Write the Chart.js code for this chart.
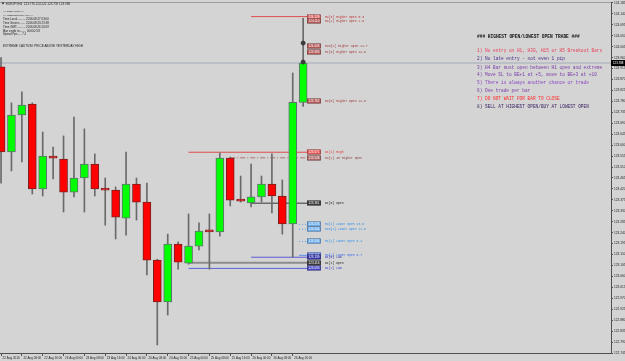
<!DOCTYPE html>
<html><head><meta charset="utf-8">
<script src="https://cdn.jsdelivr.net/npm/chart.js@4.4.0/dist/chart.umd.min.js"></script>
<style>html,body{margin:0;padding:0;background:#d4d4d4;overflow:hidden}#wrap{width:625px;height:361px;position:relative}canvas{display:block}</style>
</head><body><div id="wrap"><canvas id="c" width="625" height="361"></canvas></div>
<script>
// ---------- DATA ----------
const xTickLabels = ['22 Aug 2016','22 Aug 08:00','22 Aug 16:00','23 Aug 00:00','23 Aug 08:00','23 Aug 16:00','24 Aug 00:00','24 Aug 08:00','24 Aug 16:00','25 Aug 00:00','25 Aug 08:00','25 Aug 16:00','26 Aug 00:00','26 Aug 08:00','26 Aug 16:00'];
const opens  = [123.922,123.572,123.724,123.769,123.420,123.555,123.543,123.407,123.465,123.522,123.420,123.415,123.300,123.440,123.366,123.127,122.955,123.193,123.115,123.185,123.247,123.243,123.547,123.374,123.362,123.387,123.440,123.391,123.276,123.776];
const highs  = [123.960,123.774,123.819,123.774,123.654,123.592,123.638,123.716,123.667,123.564,123.465,123.428,123.572,123.465,123.444,123.131,123.234,123.202,123.317,123.280,123.317,123.568,123.551,123.473,123.522,123.473,123.564,123.457,123.897,124.122];
const lows   = [123.444,123.494,123.531,123.399,123.391,123.461,123.325,123.387,123.325,123.391,123.271,123.214,123.230,123.292,123.066,122.778,122.901,123.090,123.110,123.169,123.090,123.226,123.350,123.366,123.346,123.366,123.321,123.234,123.140,123.759];
const closes = [123.572,123.724,123.765,123.420,123.555,123.547,123.407,123.465,123.522,123.420,123.415,123.304,123.440,123.366,123.127,122.955,123.193,123.119,123.185,123.247,123.243,123.547,123.374,123.370,123.387,123.440,123.391,123.276,123.776,123.938];
const yTickLabels = ['122.745','122.790','122.835','122.880','122.925','122.970','123.015','123.060','123.105','123.150','123.195','123.240','123.285','123.330','123.375','123.420','123.465','123.510','123.555','123.600','123.645','123.690','123.735','123.780','123.825','123.870','123.915','123.960','124.005','124.050','124.095','124.140','124.185'];
const levelNames  = ['H4[3] Higher Open 0.3','H4[2] Higher Open 2.6','H4D[1] Higher Open 11.7','H1[0] Higher Open 14.6','H4[0] Higher Open 24.6','D1[1] High','H4[1] 4H Higher Open','D1[0] Open','H4[1] Lower Open 13.5','H4D[1] Lower Open 11.6','H1[1] Lower Open 8.4','H4[2] Lower Open 0.7','D1[0] Low','D1[1] Open','D1[1] Low'];
const levelPrices = [124.129,124.110,124.008,123.983,123.782,123.571,123.548,123.361,123.274,123.254,123.204,123.147,123.139,123.116,123.093];
const levelStart  = [24,null,null,null,null,18,22,24,28.6,28.6,28.6,28.6,24,18,18];
const markerPrices = [124.020,123.942];
const infoLines = ['### TestBox Version ###','### smithsOpenLines_v1.2 ###','Time Local.......... 2016.08.27 03:00','Time Server........ 2016.08.26 23:59','Time GMT........... 2016.08.26 20:59','Bar ends in....... 00:00:53','Spread Pips...... 7.4'];
const cautionText = 'EXTREME CAUTION: PRICE ABOVE YESTERDAY HIGH';
const ruleHeader = '### HIGHEST OPEN/LOWEST OPEN TRADE ###';
const rules = ['1) No entry on H1, H30, H15 or H5 Breakout Bars','2) No late entry - not even 1 pip','3) H4 Bar must open between H1 open and extreme','4) Move SL to BE+1 at +5, move to BE+3 at +10','5) There is always another chance or trade','6) One trade per bar','7) DO NOT WAIT FOR BAR TO CLOSE','8) SELL AT HIGHEST OPEN/BUY AT LOWEST OPEN'];
const symbolTitle = 'EURJPY,H4  123.776 124.122 123.759 123.938';

// ---------- STYLE ----------
const levelStyle = [
 {line:'#e05050',dash:[],w:1,box:'#e06464',txt:'#c03030'},
 {line:null,box:'#b85a5a',txt:'#a83838'},
 {line:null,box:'#b85a5a',txt:'#a03838'},
 {line:null,box:'#b85a5a',txt:'#a03838'},
 {line:null,box:'#b85a5a',txt:'#a03838'},
 {line:'#e04848',dash:[],w:1,box:'#e85a5a',txt:'#e03030'},
 {line:'#b07272',dash:[5,2,1,2],w:1,box:'#b06a6a',txt:'#8a4040'},
 {line:'#6a6a6a',dash:[],w:1.5,box:'#3a3a3a',txt:'#202020'},
 {line:'#5aa0e6',dash:[1,2],w:1,box:'#6eb0f0',txt:'#3090ee'},
 {line:'#5aa0e6',dash:[1,2],w:1,box:'#6eb0f0',txt:'#3090ee'},
 {line:'#5aa0e6',dash:[1,2],w:1,box:'#6eb0f0',txt:'#3090ee'},
 {line:'#5a90ee',dash:[],w:1,box:'#5577ee',txt:'#3366ee'},
 {line:'#5a5ad6',dash:[],w:1,box:'#3535a8',txt:'#2a2ab0'},
 {line:'#8c8c8c',dash:[],w:2,box:'#3a3a3a',txt:'#202020'},
 {line:'#5a62d6',dash:[],w:1,box:'#4848c8',txt:'#3333cc'}
];
const ruleColors = ['#e8405a','#4a2a8a','#7a3aa8','#7a3aa8','#8a44c4','#7a3aa8','#ff2a2a','#3a2060'];
const lastBar = opens.length - 1;
const LINE_END = 29.4;

const idx = opens.map((_, i) => i);
const datasets = [];
levelPrices.forEach((p, k) => {
  const st = levelStyle[k];
  if (levelStart[k] === null || !st.line) return;
  datasets.push({type:'line', data:[{x:levelStart[k], y:p},{x:LINE_END, y:p}], borderColor:st.line, borderWidth:st.w, borderDash:st.dash, pointRadius:0, fill:false, order:5});
});
datasets.push({type:'line', data:[{x:-1, y:closes[lastBar]},{x:60, y:closes[lastBar]}], borderColor:'#a2aab8', borderWidth:1, pointRadius:0, fill:false, order:6});
datasets.push({type:'bar', data: idx.map(i => ({x:i, y:[lows[i], highs[i]]})), backgroundColor:'#6a6a6a', barThickness:1, grouped:false, order:3, borderWidth:0});
datasets.push({type:'bar', data: idx.map(i => ({x:i, y:[opens[i], closes[i]]})),
  backgroundColor: idx.map(i => closes[i] >= opens[i] ? '#00ff00' : '#ff0000'),
  borderColor: idx.map(i => closes[i] >= opens[i] ? '#607070' : '#7a2020'),
  borderWidth:1, borderSkipped:false, barThickness:8, grouped:false, minBarLength:2, order:2});
datasets.push({type:'line', data: markerPrices.map(p => ({x:lastBar, y:p})), showLine:false, pointRadius:2, pointBackgroundColor:'#3a3a3a', pointBorderColor:'#3a3a3a', order:1});

function fitText(ctx, txt, x, y, w, family, color, weight) {
  ctx.font = (weight || 'normal') + ' 10px ' + family;
  const m = ctx.measureText(txt).width;
  const size = 10 * w / m;
  ctx.font = (weight || 'normal') + ' ' + size.toFixed(2) + 'px ' + family;
  ctx.fillStyle = color; ctx.textBaseline = 'middle'; ctx.textAlign = 'left';
  ctx.fillText(txt, x, y);
}

const overlay = {
  id:'overlay',
  beforeDraw(chart){ const c = chart.ctx; c.save(); c.fillStyle = '#d4d4d4'; c.fillRect(0,0,chart.width,chart.height); c.restore(); },
  afterDraw(chart){
    const ctx = chart.ctx, a = chart.chartArea, xs = chart.scales.x, ys = chart.scales.y;
    ctx.save();
    ctx.strokeStyle = '#9c9c9c'; ctx.lineWidth = 1;
    ctx.beginPath(); ctx.moveTo(0, a.top + 0.5); ctx.lineTo(a.right, a.top + 0.5); ctx.stroke();
    // level boxes and labels
    const bx = Math.round(xs.getPixelForValue(LINE_END));
    levelPrices.forEach((p, k) => {
      const st = levelStyle[k];
      const yy = Math.round(ys.getPixelForValue(p));
      ctx.fillStyle = st.box; ctx.fillRect(bx, yy - 2.5, 14, 5);
      ctx.strokeStyle = 'rgba(60,60,60,0.6)'; ctx.lineWidth = 0.6; ctx.strokeRect(bx + 0.3, yy - 2.2, 13.4, 4.4);
      fitText(ctx, p.toFixed(3), bx + 1.5, yy + 0.2, 11, "'Liberation Sans'", '#ffffff');
      ctx.font = "3.1px 'Liberation Mono'"; ctx.fillStyle = st.txt; ctx.textBaseline = 'middle';
      ctx.fillText(levelNames[k], bx + 18, yy);
    });
    // current price box on axis
    const py = Math.round(ys.getPixelForValue(closes[lastBar]));
    ctx.fillStyle = '#000'; ctx.fillRect(a.right, py - 3, 14, 6);
    fitText(ctx, closes[lastBar].toFixed(3), a.right + 2, py + 0.2, 10.5, "'Liberation Sans'", '#ffffff');
    // top-left info
    ctx.fillStyle = '#222'; ctx.beginPath(); ctx.moveTo(1.5,2.5); ctx.lineTo(4.5,2.5); ctx.lineTo(3,4.5); ctx.closePath(); ctx.fill();
    fitText(ctx, symbolTitle, 6, 4.2, 64, "'Liberation Sans'", '#1a1a1a');
    const infoW = [21, 30, 46, 46, 46, 37, 23];
    const infoY = [11, 15, 19, 23, 27, 31, 34.5];
    infoLines.forEach((t, k) => fitText(ctx, t, 3, infoY[k], infoW[k], "'Liberation Sans'", '#1a1a1a'));
    fitText(ctx, cautionText, 3, 46, 80, "'Liberation Sans'", '#1a1a1a');
    // rules panel
    ctx.font = "bold 4.5px 'Liberation Mono'"; ctx.fillStyle = '#111'; ctx.textBaseline = 'middle'; ctx.textAlign = 'left';
    ctx.fillText(ruleHeader, 477, 37);
    const ry = [51, 59.3, 67.5, 75.3, 83.3, 91, 98.8, 106.5];
    rules.forEach((t, k) => { ctx.font = "4.45px 'Liberation Mono'"; ctx.fillStyle = ruleColors[k]; ctx.fillText(t, 477, ry[k]); });
    ctx.restore();
  }
};

new Chart(document.getElementById('c'), {
  type:'bar',
  data:{datasets},
  options:{
    responsive:false, animation:false, devicePixelRatio:1,
    layout:{autoPadding:false, padding:{top:2, left:0, right:0, bottom:0}},
    plugins:{legend:{display:false}, tooltip:{enabled:false}},
    scales:{
      x:{type:'linear', position:'bottom', min:-0.1, max:58.55, offset:false, bounds:'data',
        afterBuildTicks: s => { s.ticks = xTickLabels.map((_, k) => ({value: 2 * k})); },
        afterFit: s => { s.height = 8; s.paddingLeft = 0; s.paddingRight = 0; },
        ticks:{callback: v => xTickLabels[v / 2], align:'start', maxRotation:0, autoSkip:false, padding:0, labelOffset:1.5, color:'#222', font:{family:"'Liberation Sans'", size:3}},
        grid:{drawOnChartArea:false, drawTicks:true, tickLength:3, color:'#555', offset:false},
        border:{display:true, color:'#505050', width:1}},
      y:{type:'linear', position:'right', min:122.745, max:124.189, bounds:'data',
        afterBuildTicks: s => { s.ticks = yTickLabels.map(t => ({value: parseFloat(t)})); },
        afterFit: s => { s.width = 14; s.paddingTop = 0; s.paddingBottom = 0; },
        ticks:{callback: v => v.toFixed(3), padding:1, color:'#222', font:{family:"'Liberation Sans'", size:3.2}, autoSkip:false},
        grid:{drawOnChartArea:false, drawTicks:true, tickLength:2, color:'#555'},
        border:{display:true, color:'#505050', width:1}}
    }
  },
  plugins:[overlay]
});
</script></body></html>
